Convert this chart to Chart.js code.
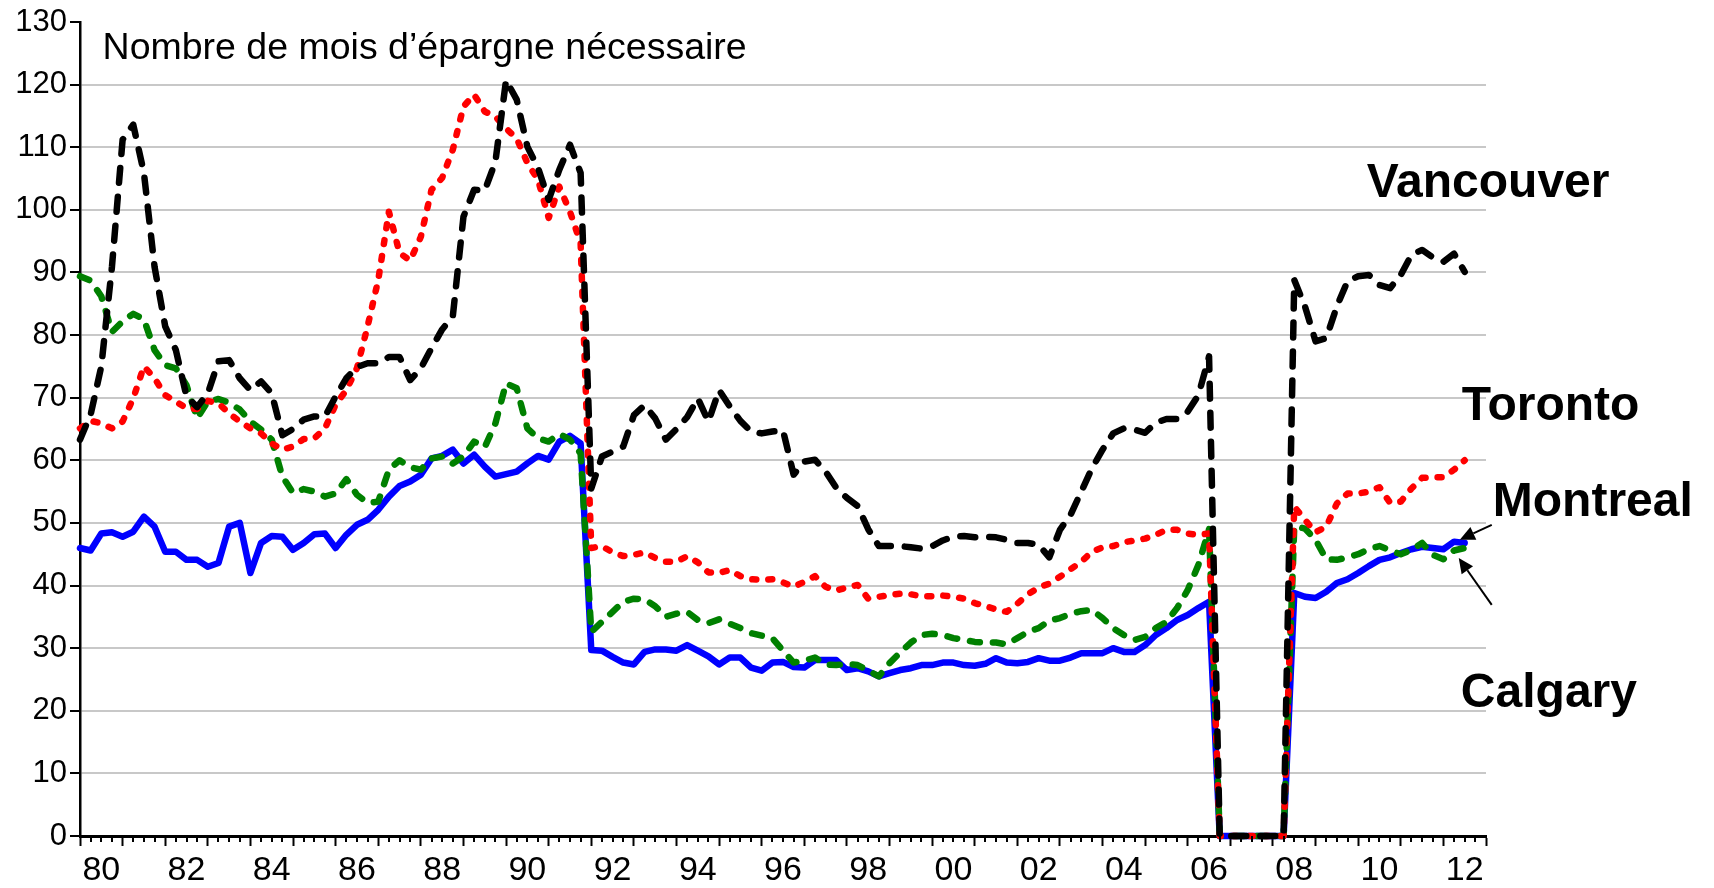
<!DOCTYPE html>
<html><head><meta charset="utf-8">
<script src="https://cdn.jsdelivr.net/npm/chart.js@4.4.1/dist/chart.umd.min.js"></script>
<style>html,body{margin:0;padding:0;background:#fff}#wrap{width:1714px;height:888px;position:relative}</style>
</head><body><div id="wrap"><canvas id="c"></canvas></div>
<script>
// ---- data (quarterly, 1980Q1 .. 2012Q3) ----
const startYear = 1980;
const endYear = 2013;
const vancouver = [63.3,67.3,75.0,90.9,111.2,113.6,105.9,90.9,81.4,77.6,70.2,68.5,70.7,75.8,76.0,73.1,71.2,72.6,70.7,64.0,65.0,66.5,67.0,67.0,70.2,73.1,74.9,75.5,75.5,76.5,76.5,72.8,74.7,77.9,80.9,83.0,98.9,103.2,103.1,107.7,120.7,117.6,110.1,106.7,101.6,106.4,110.4,105.9,55.5,60.6,61.4,62.2,67.2,68.8,66.7,63.3,65.0,66.9,69.9,66.2,71.2,68.6,66.3,64.6,64.3,64.6,64.8,57.7,59.8,60.1,58.2,55.6,54.0,52.7,49.0,46.3,46.3,46.3,46.1,45.9,46.3,47.2,47.8,47.9,47.7,47.8,47.7,47.3,46.8,46.8,46.5,44.5,48.9,51.3,55.0,58.7,61.7,64.3,65.1,64.9,64.4,66.0,66.6,66.6,67.8,70.4,76.6,0,0,0,0,0,0,0,88.8,84.6,79.0,79.5,84.6,88.6,89.4,89.6,88.0,87.5,89.6,92.8,93.6,92.4,91.7,93.0,90.1];
const toronto = [65.1,66.3,65.9,65.1,66.2,69.9,75.0,73.1,70.4,69.4,68.3,68.2,69.5,69.1,67.5,66.2,65.1,64.3,62.7,61.7,62.2,63.4,63.5,65.1,68.9,71.2,74.7,81.4,88.8,99.7,93.1,91.9,95.7,103.2,105.1,109.6,116.5,118.4,115.7,114.9,113.0,111.4,107.5,104.8,98.7,103.7,99.7,94.7,46.0,46.3,45.3,44.7,44.9,45.3,44.4,43.8,43.8,44.7,43.7,42.1,42.0,42.5,41.5,41.0,40.9,41.0,40.5,39.8,40.6,41.5,39.8,39.2,39.7,40.1,37.9,38.2,38.5,38.7,38.6,38.3,38.3,38.4,38.2,37.9,37.2,36.7,36.2,35.8,37.1,38.6,39.7,40.3,41.4,42.6,43.8,45.4,46.1,46.3,46.9,47.2,47.5,48.1,48.9,48.9,48.3,48.1,48.3,0,0,0,0,0,0,0,52.6,50.5,48.5,49.4,53.1,54.7,54.7,55.0,55.7,53.2,53.4,55.5,57.2,57.3,57.3,58.5,60.0];
const montreal = [46.0,45.6,48.3,48.5,47.8,48.6,51.0,49.4,45.4,45.4,44.1,44.1,43.0,43.6,49.4,50.0,42.0,46.8,47.9,47.8,45.7,46.8,48.2,48.3,46.0,48.1,49.7,50.5,52.1,54.2,55.9,56.6,57.7,60.3,60.7,61.7,59.5,60.9,59.0,57.4,57.8,58.2,59.5,60.7,60.1,63.0,63.9,62.7,29.7,29.6,28.6,27.7,27.4,29.4,29.8,29.8,29.6,30.5,29.6,28.7,27.4,28.5,28.5,26.9,26.4,27.7,27.8,27.0,26.9,28.1,28.1,28.1,26.5,26.8,26.3,25.5,26.0,26.5,26.8,27.3,27.3,27.7,27.7,27.3,27.2,27.5,28.4,27.7,27.6,27.8,28.4,28.0,28.0,28.5,29.2,29.2,29.2,30.0,29.4,29.4,30.5,32.1,33.2,34.5,35.3,36.4,37.4,0,0,0,0,0,0,0,38.8,38.2,38.0,39.0,40.4,41.0,42.0,43.1,44.1,44.5,45.2,45.8,46.2,46.0,45.8,47.0,46.8];
const calgary = [89.4,88.7,86.2,80.5,82.2,83.4,82.5,77.6,75.2,74.7,72.0,66.7,69.4,69.8,69.2,68.1,66.2,64.9,63.3,57.4,54.8,55.4,55.0,54.2,54.7,57.0,54.5,53.2,53.4,58.5,60.0,58.9,58.5,60.3,60.6,59.5,60.6,63.0,62.1,65.9,72.3,71.5,65.1,63.5,63.0,64.2,63.3,61.1,32.6,34.2,35.8,37.4,37.9,37.8,36.7,35.0,35.5,35.8,34.5,34.0,34.6,33.9,33.2,32.4,32.0,31.6,29.6,27.7,28.0,28.5,27.4,27.3,27.5,27.3,26.4,25.5,27.6,29.3,30.9,32.1,32.3,32.1,31.6,31.3,31.0,30.9,30.9,30.6,31.6,32.6,33.2,34.4,34.8,35.5,35.9,36.1,34.8,33.2,32.1,31.3,31.8,33.2,34.2,36.4,39.3,43.3,49.0,0,0,0,0,0,0,0,49.5,49.1,47.3,44.2,44.1,44.5,45.0,45.8,46.3,45.6,45.0,45.7,46.8,44.9,44.2,45.6,46.0];
const xTickLabels = ['80','82','84','86','88','90','92','94','96','98','00','02','04','06','08','10','12'];
const yTickStep = 10;
const yMax = 130;
const titleText = 'Nombre de mois d\u2019\u00e9pargne n\u00e9cessaire';

// quarter positions (category axis values)
const periods = vancouver.map((_, i) => startYear + i / 4);
const toPoints = arr => arr.map((v, i) => ({x: periods[i], y: v}));

// ---- annotations (positions in data units) ----
const textNotes = [
  {text: titleText, x: 1980.53, y: 124.1, bold: false, size: 37.5},
  {text: 'Vancouver', x: 2010.2, y: 102.1, bold: true, size: 48},
  {text: 'Toronto', x: 2012.43, y: 66.45, bold: true, size: 48},
  {text: 'Montreal', x: 2013.16, y: 51.1, bold: true, size: 48},
  {text: 'Calgary', x: 2012.41, y: 20.6, bold: true, size: 48}
];
const arrowNotes = [
  {from: [2013.135, 49.7], to: [2012.385, 47.3]},
  {from: [2013.135, 36.9], to: [2012.36, 44.4]}
];

const FONT = "'Liberation Sans', Arial, Helvetica, sans-serif";

const notesPlugin = {
  id: 'notes',
  afterDraw(chart) {
    const ctx = chart.ctx, xs = chart.scales.x, ys = chart.scales.y;
    ctx.save();
    // minor (quarter) ticks
    ctx.strokeStyle = '#000'; ctx.lineWidth = 2;
    const base = chart.chartArea.bottom;
    xs.ticks.forEach(t => {
      if (!Number.isInteger(Math.round(t.value * 4) / 4)) {
        const px = Math.round(xs.getPixelForValue(t.value));
        ctx.beginPath(); ctx.moveTo(px, base); ctx.lineTo(px, base + 6); ctx.stroke();
      }
    });
    // texts
    ctx.fillStyle = '#000'; ctx.textBaseline = 'alphabetic'; ctx.textAlign = 'left';
    textNotes.forEach(n => {
      ctx.font = (n.bold ? 'bold ' : '') + n.size + 'px ' + FONT;
      ctx.fillText(n.text, xs.getPixelForValue(n.x), ys.getPixelForValue(n.y));
    });
    // arrows
    arrowNotes.forEach(a => {
      const x1 = xs.getPixelForValue(a.from[0]), y1 = ys.getPixelForValue(a.from[1]);
      const x2 = xs.getPixelForValue(a.to[0]), y2 = ys.getPixelForValue(a.to[1]);
      const ang = Math.atan2(y2 - y1, x2 - x1);
      const hl = 15, hw = 7;
      const bx = x2 - hl * Math.cos(ang), by = y2 - hl * Math.sin(ang);
      ctx.strokeStyle = '#000'; ctx.lineWidth = 2;
      ctx.beginPath(); ctx.moveTo(x1, y1); ctx.lineTo(bx, by); ctx.stroke();
      ctx.beginPath();
      ctx.moveTo(x2, y2);
      ctx.lineTo(bx + hw * Math.sin(ang), by - hw * Math.cos(ang));
      ctx.lineTo(bx - hw * Math.sin(ang), by + hw * Math.cos(ang));
      ctx.closePath(); ctx.fill();
    });
    ctx.restore();
  }
};

const lineBase = {pointRadius: 0, borderWidth: 6.5, tension: 0, fill: false, borderCapStyle: 'round', borderJoinStyle: 'round', clip: 6};

new Chart(document.getElementById('c'), {
  type: 'line',
  data: {
    datasets: [
      Object.assign({label: 'Vancouver', data: toPoints(vancouver), borderColor: '#000000', borderDash: [15, 14]}, lineBase),
      Object.assign({label: 'Toronto', data: toPoints(toronto), borderColor: '#ff0000', borderDash: [4, 12]}, lineBase),
      Object.assign({label: 'Calgary', data: toPoints(calgary), borderColor: '#008000', borderDash: [10, 13]}, lineBase),
      Object.assign({label: 'Montreal', data: toPoints(montreal), borderColor: '#0000ff'}, lineBase)
    ]
  },
  options: {
    responsive: true, maintainAspectRatio: false, animation: false,
    layout: {padding: {top: 22, right: 228, left: 0, bottom: 0}},
    plugins: {legend: {display: false}, tooltip: {enabled: false}, title: {display: false}},
    scales: {
      x: {
        type: 'linear', min: startYear, max: endYear,
        afterFit: s => { s.height = 52; },
        grid: {drawOnChartArea: false, drawTicks: true, tickLength: 10, tickWidth: 2,
               tickColor: c => (c.tick && Number.isInteger(Math.round(c.tick.value * 4) / 4)) ? '#000' : 'rgba(0,0,0,0)'},
        border: {display: true, color: '#000', width: 3},
        ticks: {
          stepSize: 0.25, autoSkip: false, maxRotation: 0, minRotation: 0,
          labelOffset: 21.3, padding: 4, color: '#000',
          font: {family: FONT, size: 34},
          callback: v => {
            const q = Math.round(v * 4) / 4;
            if (Number.isInteger(q) && (q - startYear) % 2 === 0) return xTickLabels[(q - startYear) / 2] ?? '';
            return '';
          }
        }
      },
      y: {
        min: 0, max: yMax,
        afterFit: s => { s.width = 80; },
        grid: {color: c => (c.tick && (c.tick.value === 0 || c.tick.value === yMax)) ? 'rgba(0,0,0,0)' : '#c8c8c8',
               lineWidth: 2, tickColor: '#000', tickLength: 10, tickWidth: 2},
        border: {display: true, color: '#000', width: 2.5},
        ticks: {stepSize: yTickStep, color: '#000', padding: 3, font: {family: FONT, size: 31}}
      }
    }
  },
  plugins: [notesPlugin]
});
</script></body></html>
